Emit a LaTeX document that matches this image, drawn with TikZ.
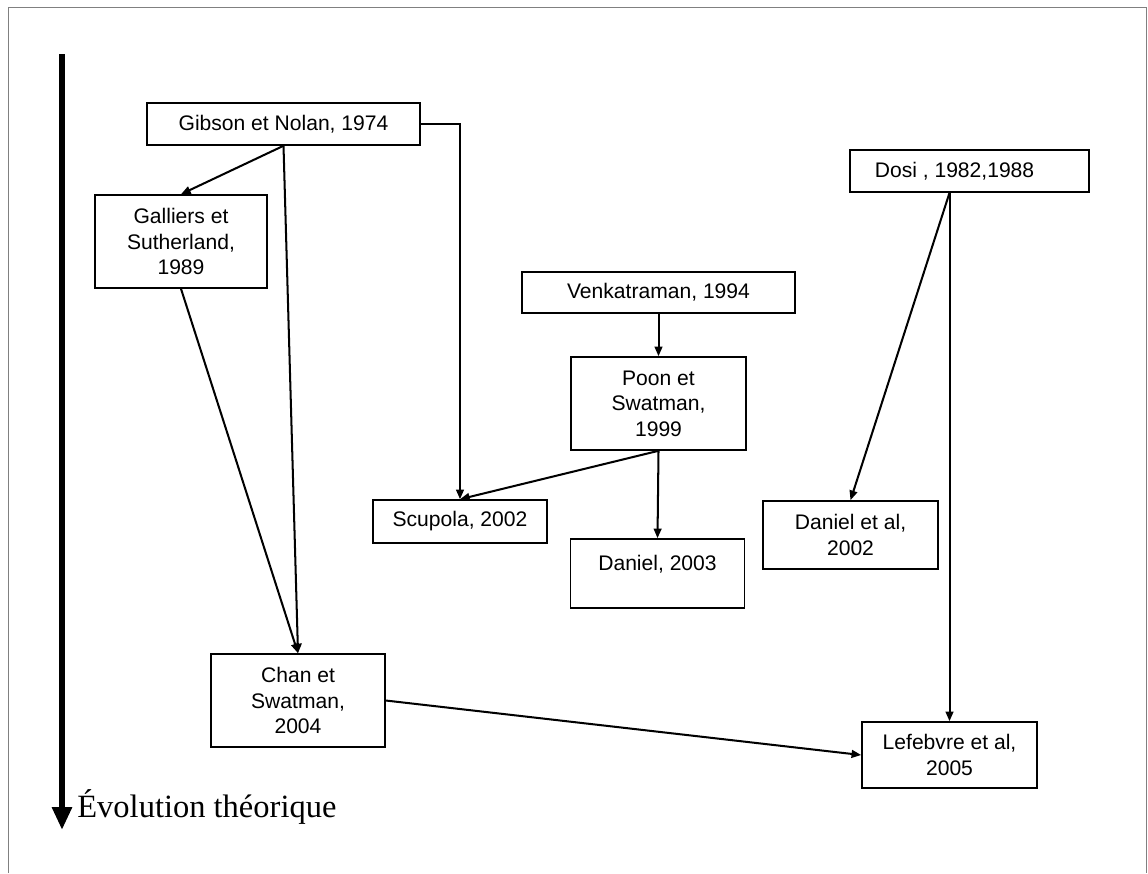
\documentclass[tikz,border=0pt]{standalone}
\usepackage{fontspec}
\setmainfont{Liberation Serif}
\newfontfamily\boxfont{Liberation Sans}
\usetikzlibrary{arrows.meta}

\tikzset{
  refbox/.style 2 args={draw, line width=0.9pt, inner sep=0pt, align=center,
    minimum width=#1*0.02cm, minimum height=#2*0.02cm,
    font=\boxfont\fontsize{12}{14.6}\selectfont},
  link/.style={line width=1.15pt, -{Triangle[length=5.5pt, width=4.4pt]}},
  frameline/.style={draw=black!50, line width=0.5pt}
}

\begin{document}
\begin{tikzpicture}[x=0.02cm, y=-0.02cm]

  % page area and outer frame
  \useasboundingbox (0,0) rectangle (1148,873);
  \draw[frameline] (8,873) -- (8,7) -- (1146,7) -- (1146,873);

  % time axis
  \coordinate (axtop) at (62,54);
  \coordinate (axend) at (62,830);
  \draw[line width=0.12cm, -{Triangle[length=0.46cm, width=0.38cm]}] (axtop) -- (axend);
  \node[anchor=base west, inner sep=0pt, font=\fontsize{18.5}{22}\selectfont]
    (evo) at (77,817) {Évolution théorique};

  % references
  \node[refbox={273}{42}] (gib)  at (283.5,124)  {Gibson et Nolan, 1974};
  \node[refbox={172}{93}] (gal)  at (181,241.5)  {Galliers et\\Sutherland,\\1989};
  \node[refbox={239}{42}] (dosi) at (969.5,171)  {Dosi , 1982,1988\hspace*{0.6cm}};
  \node[refbox={273}{41}] (ven)  at (658.5,292.5){Venkatraman, 1994};
  \node[refbox={175}{93}] (poon) at (658.5,403.5){Poon et\\Swatman,\\1999};
  \node[refbox={174}{43}] (scu)  at (460,521.5)  {Scupola, 2002};
  \node[refbox={174}{69}] (dan)  at (657.5,573.5){Daniel, 2003\\[-2.6pt]\mbox{}};
  \node[refbox={175}{68}] (dal)  at (850.5,535)  {Daniel et al,\\2002};
  \node[refbox={174}{93}] (chan) at (298,700.5)  {Chan et\\Swatman,\\2004};
  \node[refbox={175}{66}] (lef)  at (949.5,755)  {Lefebvre et al,\\2005};

  % influences
  \draw[link] (gib.south) -- (gal.north);
  \draw[link] (gib.south) -- (chan.north);
  \draw[link] (gal.south) -- (chan.north);
  \draw[link] (gib.east) -| (scu.north);
  \draw[link] (ven.south) -- (poon.north);
  \draw[link] (poon.south) -- (scu.north);
  \draw[link] (poon.south) -- (dan.north);
  \coordinate (dosiout) at (dosi.south -| lef.north);
  \draw[link] (dosiout) -- (dal.north);
  \draw[link] (dosiout) -- (lef.north);
  \draw[link] (chan.east) -- (lef.west);
\end{tikzpicture}
\end{document}
